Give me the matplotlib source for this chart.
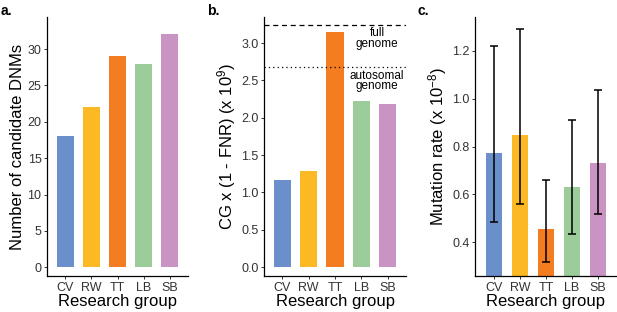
import numpy as np
import matplotlib
matplotlib.use("Agg")
import matplotlib.pyplot as plt

plt.rcParams['font.family'] = ['Liberation Sans', 'DejaVu Sans']
plt.rcParams['mathtext.fontset'] = 'custom'
plt.rcParams['mathtext.rm'] = 'Liberation Sans'
plt.rcParams['mathtext.it'] = 'Liberation Sans:italic'

groups = ['CV', 'RW', 'TT', 'LB', 'SB']
colors = ['#6b8fca', '#fdb924', '#f47c21', '#9bcc9a', '#c993c4']

n_dnms = [18, 22, 29, 28, 32]
callable_genome = [1.16, 1.29, 3.15, 2.22, 2.18]
full_genome = 3.24
autosomal_genome = 2.675
mut_rate = [0.773, 0.85, 0.458, 0.63, 0.733]
mut_low = [0.487, 0.562, 0.32, 0.435, 0.52]
mut_high = [1.22, 1.29, 0.66, 0.91, 1.035]

W, H = 617, 312
fig = plt.figure(figsize=(W / 100, H / 100), dpi=100)


def make_ax(left, right, top=17, bottom=276):
    ax = fig.add_axes([left / W, 1 - bottom / H, (right - left) / W, (bottom - top) / H])
    ax.spines['top'].set_visible(False)
    ax.spines['right'].set_visible(False)
    for s in ['left', 'bottom']:
        ax.spines[s].set_linewidth(0.9)
    ax.tick_params(labelsize=9, length=2.5, width=0.7, colors='#333333', pad=1.5)
    ax.set_xlabel('Research group', fontsize=12, labelpad=0)
    return ax


x = np.arange(len(groups))

# a. candidate DNMs
ax1 = make_ax(47, 188)
ax1.bar(x, n_dnms, width=0.65, color=colors)
ax1.set_xlim(-0.7, 4.7)
ax1.set_ylim(-1.2, 34.4)
ax1.set_yticks([0, 5, 10, 15, 20, 25, 30])
ax1.set_xticks(x)
ax1.set_xticklabels(groups)
ax1.set_ylabel('Number of candidate DNMs', fontsize=12, labelpad=2)

# b. callable genome
ax2 = make_ax(264, 406)
ax2.bar(x, callable_genome, width=0.65, color=colors)
ax2.axhline(full_genome, color='black', linestyle=(0, (4, 3)), linewidth=0.9)
ax2.axhline(autosomal_genome, color='black', linestyle=(0, (1, 2.5)), linewidth=0.9)
ax2.text(3.6, full_genome - 0.03, 'full\ngenome', ha='center', va='top',
         fontsize=8.5, linespacing=0.8)
ax2.text(3.6, autosomal_genome - 0.03, 'autosomal\ngenome', ha='center', va='top',
         fontsize=8.5, linespacing=0.8)
ax2.set_xlim(-0.7, 4.7)
ax2.set_ylim(-0.12, 3.35)
ax2.set_yticks([0, 0.5, 1.0, 1.5, 2.0, 2.5, 3.0])
ax2.set_yticklabels(['0.0', '0.5', '1.0', '1.5', '2.0', '2.5', '3.0'])
ax2.set_xticks(x)
ax2.set_xticklabels(groups)
ax2.set_ylabel('CG x (1 - FNR) (x 10$^9$)', fontsize=12, labelpad=2)

# c. mutation rate
ax3 = make_ax(475, 617)
err = [np.array(mut_rate) - np.array(mut_low), np.array(mut_high) - np.array(mut_rate)]
ax3.bar(x, mut_rate, width=0.65, color=colors)
ax3.errorbar(x, mut_rate, yerr=err, fmt='none', ecolor='black', elinewidth=1.1,
             capsize=2.6, capthick=1.1)
ax3.set_xlim(-0.73, 4.73)
ax3.set_ylim(0.26, 1.34)
ax3.set_yticks([0.4, 0.6, 0.8, 1.0, 1.2])
ax3.set_yticklabels(['0.4', '0.6', '0.8', '1.0', '1.2'])
ax3.set_xticks(x)
ax3.set_xticklabels(groups)
ax3.set_ylabel('Mutation rate (x 10$^{-8}$)', fontsize=12, labelpad=2)

for lbl, px in [('a.', 1), ('b.', 207), ('c.', 418)]:
    fig.text(px / W, 1 - 11 / H, lbl, fontsize=10, fontweight='bold', ha='left', va='center')

fig.savefig('out.png', dpi=100)
